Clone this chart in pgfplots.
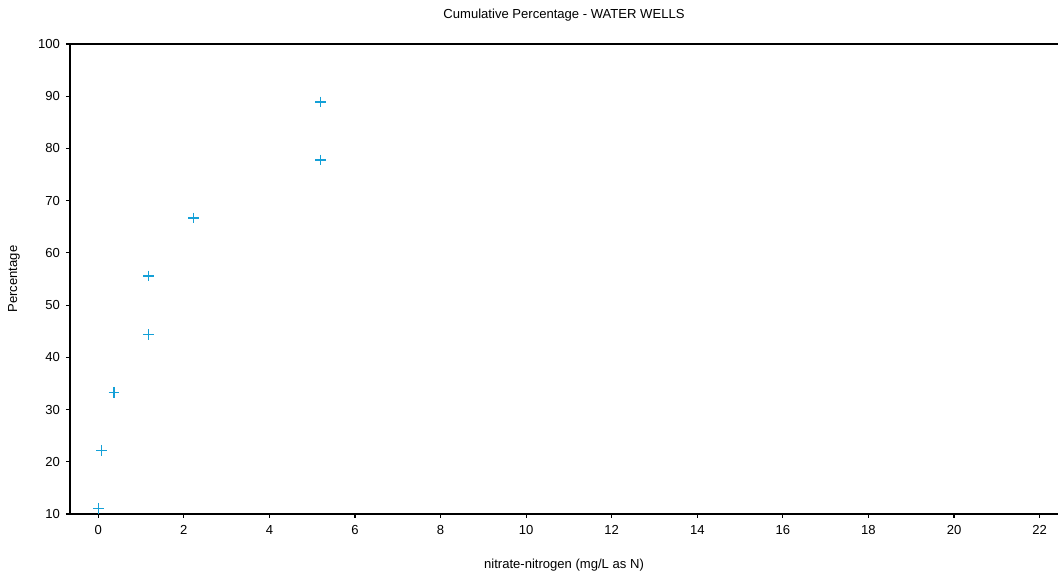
\documentclass[border=0pt]{standalone}
\usepackage{fontspec}
\setmainfont{Liberation Sans}
\usepackage{pgfplots}
\pgfplotsset{compat=1.18}
\definecolor{markc}{RGB}{20,160,215}
\begin{document}
\begin{tikzpicture}
\begin{axis}[
  at={(0,0)}, anchor=south west,
  scale only axis, width=741pt, height=352.5pt,
  xmin=-0.66, xmax=22.43, ymin=10, ymax=100,
  xtick={0,2,...,22}, ytick={10,20,...,100},
  axis x line*=box, axis y line*=left,
  xtick pos=bottom, ytick pos=left,
  axis line style={line width=1pt, black},
  tick style={black, line width=0.8pt},
  tick align=outside, major tick length=3pt,
  font=\fontsize{9.8pt}{11pt}\selectfont,
  /pgf/number format/assume math mode=true,
  every axis title shift=0pt,
  title={Cumulative Percentage - WATER WELLS},
  title style={at={(axis description cs:0.5,1.0638)}, anchor=center, yshift=-1pt},
  xlabel={nitrate-nitrogen (mg/L as N)},
  xlabel style={at={(axis description cs:0.5,-0.1085)}, anchor=center},
  ylabel={Percentage},
  ylabel style={at={(axis description cs:-0.0567,0.5)}, anchor=center},
  xticklabel style={yshift=-2pt},
  yticklabel style={xshift=-1pt},
  clip=false,
]
\addplot[only marks, mark=+, mark size=4pt, color=markc, line width=1pt] coordinates {
  (0.01,11.1) (0.075,22.2) (0.37,33.3) (1.18,44.4) (1.18,55.6) (2.23,66.7) (5.2,77.8) (5.2,88.9)
};
\end{axis}
\pgfresetboundingbox
\path (-52.5pt,-49.5pt) rectangle (741pt,385.5pt);
\end{tikzpicture}
\end{document}
